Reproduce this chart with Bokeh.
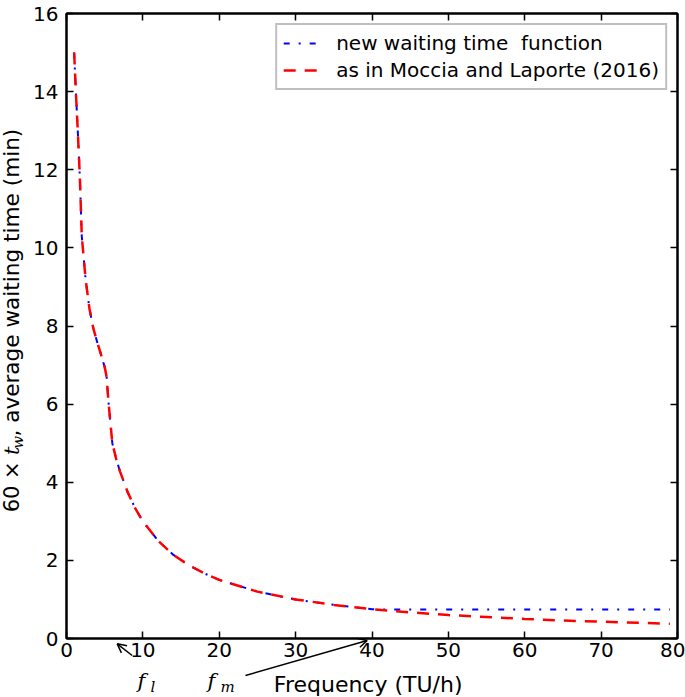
import math
from bokeh.plotting import figure
from bokeh.models import (Range1d, LinearAxis, Legend, LegendItem, FixedTicker,
                          CustomJSTickFormatter)
from bokeh.core.properties import value
from bokeh.embed import file_html
from bokeh.resources import INLINE

# ---------------- data ----------------
freq_moccia = [1, 1.25, 1.5, 1.75, 2, 2.5, 3, 3.5, 4, 4.5, 5, 5.25, 5.5, 6, 6.5, 7, 8, 9, 10,
               12, 14, 16, 18, 20, 25, 30, 35, 40, 45, 50, 55, 60, 65, 70, 75, 79]
wait_moccia = [15.0, 13.9, 12.9, 11.8, 10.3, 9.2, 8.45, 7.95, 7.6, 7.28, 6.95, 6.7, 6.05, 5.0, 4.6,
               4.28, 3.75, 3.33, 3.0, 2.5, 2.14, 1.88, 1.67, 1.5, 1.2, 1.0, 0.86, 0.75, 0.67, 0.6,
               0.55, 0.5, 0.46, 0.43, 0.4, 0.38]

freq_new = [1, 1.25, 1.5, 1.75, 2, 2.5, 3, 3.5, 4, 4.5, 5, 5.25, 5.5, 6, 6.5, 7, 8, 9, 10,
            12, 14, 16, 18, 20, 25, 30, 35, 40, 42, 50, 60, 70, 79]
wait_new = [15.0, 13.9, 12.9, 11.8, 10.3, 9.2, 8.45, 7.95, 7.6, 7.28, 6.95, 6.7, 6.05, 5.0, 4.6,
            4.28, 3.75, 3.33, 3.0, 2.5, 2.14, 1.88, 1.67, 1.5, 1.2, 1.0, 0.86, 0.75, 0.74, 0.74,
            0.74, 0.74, 0.74]

x_ticks = [0, 10, 20, 30, 40, 50, 60, 70, 80]
y_ticks = [0, 2, 4, 6, 8, 10, 12, 14, 16]
legend_labels = ["new waiting time  function", "as in Moccia and Laporte (2016)"]
x_label = "Frequency (TU/h)"
y_label_parts = ["60 \u00d7", "t", "w", ", average waiting time  (min)"]
f_labels = ["f", "f"]
f_subscripts = ["l", "m"]

# annotation anchors (data units; outside the frame)
ylab_x, ylab_sub_x = -7.20, -6.40
ylab_y = [3.23, 4.70, 4.86, 5.17]
xlab_pos = (39.5, -1.18)
f_pos_x, f_pos_y = [9.30, 18.46], -1.10
sub_pos_x, sub_pos_y = [11.0, 20.16], -1.25
arrow_tails = [(8.6, -0.435), (23.44, -0.947)]
arrow_heads = [(6.64, -0.136), (39.37, -0.051)]

# ---------------- figure ----------------
W, H = 685, 697
BL, BR, BT, BB = 66, 8, 13, 59
X0, X1, Y0, Y1 = 0, 80, 0, 16

p = figure(width=W, height=H, x_range=Range1d(X0, X1), y_range=Range1d(Y0, Y1),
           output_backend="svg", toolbar_location=None,
           min_border_left=BL, min_border_right=BR, min_border_top=BT, min_border_bottom=BB)
p.xgrid.visible = False
p.ygrid.visible = False
p.outline_line_color = "black"
p.outline_line_width = 2
p.background_fill_color = "white"
p.border_fill_color = "white"

FONT = "DejaVu Sans"
SERIF = "DejaVu Serif"

def style_axis(ax, ticks):
    ax.ticker = FixedTicker(ticks=ticks)
    ax.axis_line_color = "black"
    ax.axis_line_width = 2
    ax.major_tick_in = 7
    ax.major_tick_out = 0
    ax.major_tick_line_width = 1.5
    ax.minor_tick_in = 0
    ax.minor_tick_out = 0
    ax.major_label_text_font = FONT
    ax.major_label_text_font_size = "20px"
    ax.major_label_text_color = "black"

style_axis(p.xaxis[0], x_ticks)
style_axis(p.yaxis[0], y_ticks)
p.xaxis.major_label_standoff = 4
p.yaxis.major_label_standoff = 8

blank = CustomJSTickFormatter(code="return ''")
top_ax = LinearAxis(formatter=blank)
right_ax = LinearAxis(formatter=blank)
style_axis(top_ax, x_ticks)
style_axis(right_ax, y_ticks)
for ax in (top_ax, right_ax):
    ax.major_label_standoff = 0
    ax.major_label_text_font_size = "1px"
p.add_layout(top_ax, "above")
p.add_layout(right_ax, "right")

# ---------------- lines ----------------
r_new = p.line(freq_new, wait_new, line_color="blue", line_width=2, line_dash="6 9 2 9")
r_moc = p.line(freq_moccia, wait_moccia, line_color="red", line_width=2.5, line_dash="12 9")

legend = Legend(items=[LegendItem(label=legend_labels[0], renderers=[r_new]),
                       LegendItem(label=legend_labels[1], renderers=[r_moc])],
                location="top_right", margin=10, padding=6, spacing=3,
                glyph_width=34, glyph_height=22, label_height=22, label_standoff=19,
                label_text_font=FONT, label_text_font_size="20px", label_text_color="black",
                border_line_color="#808080", border_line_width=2,
                background_fill_color="white", background_fill_alpha=1)
p.add_layout(legend)

# ---------------- texts outside the frame (overlay-level text glyphs) ----------------
def txt(xs, ys, texts, size, font=FONT, style="normal", angle=0.0, align="left"):
    p.text(x=xs, y=ys, text=texts, angle=angle, text_font=value(font),
           text_font_size=value(size), text_font_style=style, text_color="black",
           text_align=align, text_baseline="alphabetic", level="overlay")

A = math.pi / 2
txt([ylab_x], [ylab_y[0]], [y_label_parts[0]], "21px", angle=A)
txt([ylab_x], [ylab_y[1]], [y_label_parts[1]], "21px", font=SERIF, style="italic", angle=A)
txt([ylab_sub_x], [ylab_y[2]], [y_label_parts[2]], "15px", font=SERIF, style="italic", angle=A)
txt([ylab_x], [ylab_y[3]], [y_label_parts[3]], "21.6px", angle=A)

txt([xlab_pos[0]], [xlab_pos[1]], [x_label], "22px", align="center")

txt(f_pos_x, [f_pos_y] * 2, f_labels, "21px", font=SERIF, style="italic")
txt(sub_pos_x, [sub_pos_y] * 2, f_subscripts, "15px", font=SERIF, style="italic")

# ---------------- arrows (shaft + open head, computed from the anchors) ----------------
SX = (W - BL - BR) / (X1 - X0)   # px per x unit
SY = (H - BT - BB) / (Y1 - Y0)   # px per y unit
HEAD, HALF = 10.0, math.radians(27)
sx0, sy0, sx1, sy1 = [], [], [], []
for (xt, yt), (xh, yh) in zip(arrow_tails, arrow_heads):
    sx0.append(xt); sy0.append(yt); sx1.append(xh); sy1.append(yh)
    dx, dy = (xh - xt) * SX, (yh - yt) * SY
    L = math.hypot(dx, dy)
    bx, by = -dx / L, -dy / L
    for s in (1, -1):
        c, sn = math.cos(s * HALF), math.sin(s * HALF)
        rx, ry = bx * c - by * sn, bx * sn + by * c
        sx0.append(xh); sy0.append(yh)
        sx1.append(xh + rx * HEAD / SX); sy1.append(yh + ry * HEAD / SY)
p.segment(x0=sx0, y0=sy0, x1=sx1, y1=sy1, line_color="black", line_width=1.5,
          level="overlay")

open("out.html", "w").write(file_html(p, INLINE))
